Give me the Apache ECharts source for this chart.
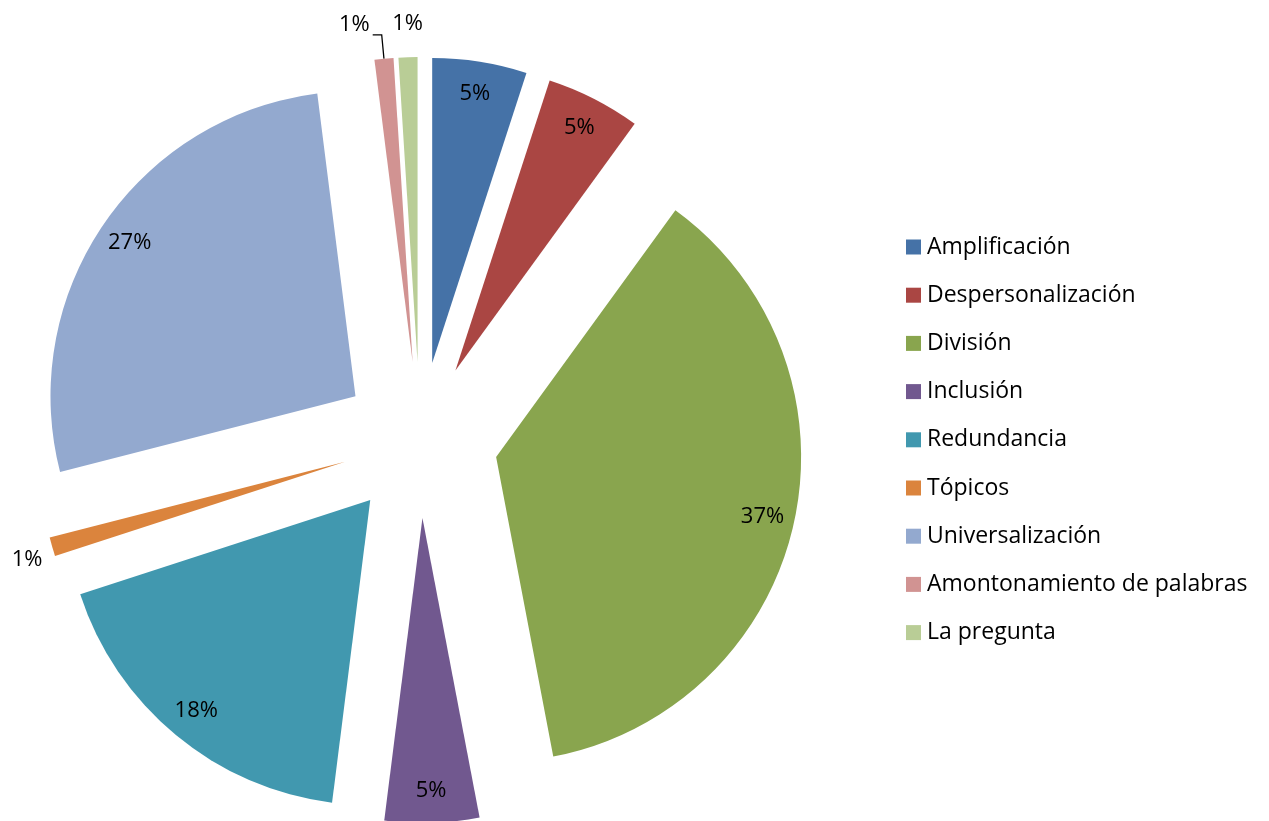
<!DOCTYPE html>
<html>
<head>
<meta charset="utf-8">
<title>Recursos argumentativos</title>
<script src="https://cdn.jsdelivr.net/npm/echarts@6/dist/echarts.min.js"></script>
<style>
  html, body { margin: 0; padding: 0; background: #ffffff; }
  #chart { width: 1269px; height: 821px; }
</style>
</head>
<body>
<div id="chart"></div>
<script>
// Categories and their share of the total (percent)
const categories = [
  'Amplificación',
  'Despersonalización',
  'División',
  'Inclusión',
  'Redundancia',
  'Tópicos',
  'Universalización',
  'Amontonamiento de palabras',
  'La pregunta'
];
const shares = [5, 5, 37, 5, 18, 1, 27, 1, 1];
const colors = ['#4572A7', '#AA4643', '#89A54E', '#71588F', '#4198AF', '#DB843D', '#93A9CF', '#D19392', '#B9CD96'];

const FONT = '"Open Sans", "Noto Sans", sans-serif';
const CENTER = [420, 440];
const RADIUS = 305;
const EXPLODE = 78;

// tiny slices get their label outside the pie
const isTiny = v => v <= 1;

// leader-line settings for the outside labels
const outsideLines = {
  'Amontonamiento de palabras': { show: true, length: 24, length2: 9 },
  'La pregunta': { show: false, length: 30, length2: 0 },
  'Tópicos': { show: false, length: 6, length2: 0 }
};

const mainData = categories.map((name, i) => ({
  name,
  value: shares[i],
  selected: true,
  itemStyle: { color: colors[i] },
  label: { show: isTiny(shares[i]) },
  labelLine: outsideLines[name] || { show: false }
}));

// same slices, used only to carry the inner labels near the rim
const labelData = categories.map((name, i) => ({
  name,
  value: shares[i],
  selected: true,
  label: { show: !isTiny(shares[i]) }
}));

const chart = echarts.init(document.getElementById('chart'), null, { renderer: 'canvas' });

chart.setOption({
  backgroundColor: '#ffffff',
  animation: false,
  legend: {
    data: categories,
    orient: 'vertical',
    left: 906,
    top: 235,
    padding: 0,
    icon: 'rect',
    itemWidth: 15,
    itemHeight: 15,
    itemGap: 24.2,
    selectedMode: false,
    textStyle: {
      fontFamily: FONT,
      fontSize: 23,
      color: '#000000',
      lineHeight: 24,
      padding: [0, 0, 0, 1]
    }
  },
  series: [
    {
      type: 'pie',
      center: CENTER,
      radius: [0, RADIUS],
      startAngle: 90,
      clockwise: true,
      selectedMode: 'multiple',
      selectedOffset: EXPLODE,
      avoidLabelOverlap: false,
      silent: true,
      data: mainData,
      label: {
        position: 'outside',
        formatter: '{c}%',
        fontFamily: FONT,
        fontSize: 22,
        color: '#000000',
        distanceToLabelLine: 3
      },
      labelLine: {
        lineStyle: { color: '#000000', width: 1.3 }
      },
      labelLayout: function (params) {
        const name = categories[params.dataIndex];
        if (name === 'La pregunta') return { dx: 19, dy: -3 };
        if (name === 'Tópicos') return { dx: -1, dy: 11 };
        if (name === 'Amontonamiento de palabras') return { dy: -10 };
        return {};
      },
      itemStyle: { borderWidth: 0 },
      emphasis: { disabled: true }
    },
    {
      type: 'pie',
      center: CENTER,
      radius: [235, RADIUS],
      startAngle: 90,
      clockwise: true,
      selectedMode: 'multiple',
      selectedOffset: EXPLODE,
      avoidLabelOverlap: false,
      silent: true,
      data: labelData,
      itemStyle: { color: 'rgba(0,0,0,0)', borderWidth: 0 },
      label: {
        position: 'inside',
        formatter: '{c}%',
        fontFamily: FONT,
        fontSize: 22,
        color: '#000000'
      },
      labelLine: { show: false },
      emphasis: { disabled: true }
    }
  ]
});
</script>
</body>
</html>
